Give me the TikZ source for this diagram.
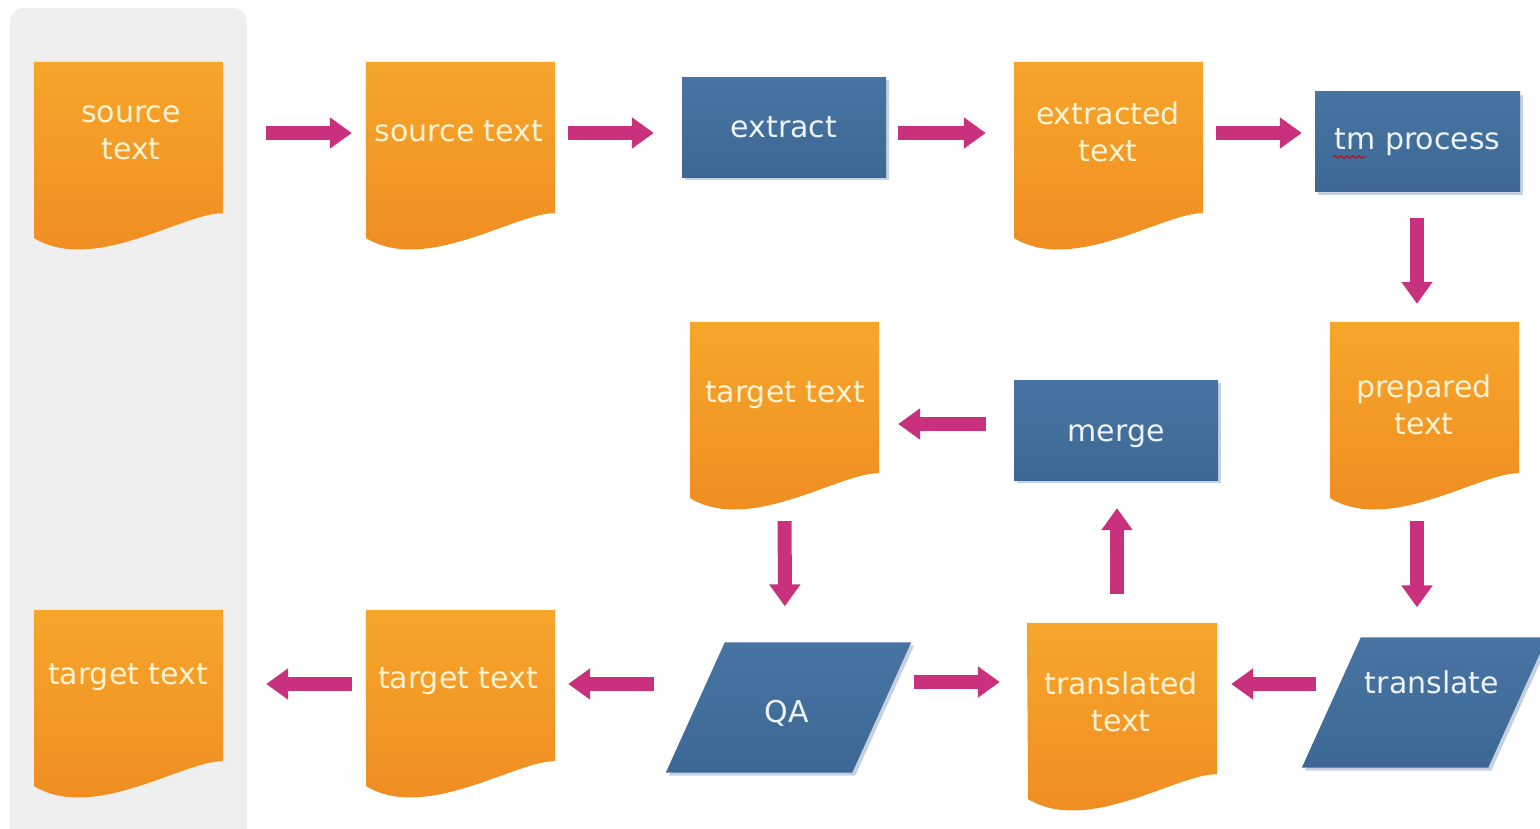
\documentclass[tikz,border=0pt]{standalone}
\usepackage{fontspec}
\setmainfont{DejaVu Sans}
\usetikzlibrary{arrows.meta,calc,decorations.pathmorphing,shadows}
\definecolor{panel}{HTML}{EFEFEF}
\definecolor{orTop}{HTML}{F6A62B}
\definecolor{orBot}{HTML}{EF8A21}
\definecolor{blTop}{HTML}{4774A2}
\definecolor{blBot}{HTML}{3D6896}
\definecolor{blShadow}{HTML}{C5D1DE}
\definecolor{arrowc}{HTML}{C9317C}
\definecolor{ortext}{HTML}{FFF3D2}
\definecolor{bltext}{HTML}{EEF3FA}
\tikzset{
  docbox/.style={rectangle, inner sep=0pt, minimum width=189pt, minimum height=151pt},
  orfill/.style={top color=orTop, bottom color=orBot},
  doctext/.style={text=ortext, align=center, inner sep=0pt, font=\fontsize{30pt}{37pt}\selectfont},
  bltxt/.style={text=bltext, align=center, inner sep=0pt, font=\fontsize{30pt}{37pt}\selectfont},
  bluebox/.style={rectangle, inner sep=0pt, minimum width=204pt, minimum height=100pt,
    top color=blTop, bottom color=blBot, text=bltext, font=\fontsize{30pt}{37pt}\selectfont,
    drop shadow={shadow xshift=3pt, shadow yshift=-3pt, fill=blShadow, opacity=1}},
  parabox/.style={rectangle, inner sep=0pt, minimum width=245pt, minimum height=130pt},
  arr/.style={draw=arrowc, line width=14pt, -{Triangle[length=22pt,width=30pt]}},
}
\newcommand\mydoc[1]{\shade[orfill] (#1.north west) -- (#1.north east) -- (#1.south east)
  .. controls ($(#1.south east)+(-39,-1)$) and ($(#1.south east)+(-129,61)$) .. ($(#1.south east)+(-189,25)$) -- cycle;}
\newcommand\mypara[1]{%
  \fill[blShadow] ($(#1.north west)+(62,3)$) -- ($(#1.north east)+(3,3)$) -- ($(#1.south east)+(-56,3)$) -- ($(#1.south west)+(3,3)$) -- cycle;
  \shade[top color=blTop, bottom color=blBot] ($(#1.north west)+(59,0)$) -- (#1.north east) -- ($(#1.south east)+(-59,0)$) -- (#1.south west) -- cycle;}
\begin{document}
\begin{tikzpicture}[x=1pt,y=-1pt]
\useasboundingbox (0,0) rectangle (1540,829);
\fill[panel, rounded corners=14pt] (10,8) rectangle (247,870);

% documents
\node[docbox] (st1) at (128.5,137.5) {};
\node[docbox] (st2) at (460.5,137.5) {};
\node[docbox] (ext) at (1108.5,137.5) {};
\node[docbox] (ttm) at (784.5,397.5) {};
\node[docbox] (prep) at (1424.5,397.5) {};
\node[docbox] (tt1) at (128.5,685.5) {};
\node[docbox] (tt2) at (460.5,685.5) {};
\node[docbox, minimum width=190pt] (trd) at (1122,698.5) {};
\mydoc{st1}\mydoc{st2}\mydoc{ext}\mydoc{ttm}\mydoc{prep}\mydoc{tt1}\mydoc{tt2}\mydoc{trd}
\node[doctext] (st1t) at (131,133) {source\\text};
\node[doctext] (st2t) at (459,131) {source text};
\node[doctext] (extt) at (1108,132) {extracted\\text};
\node[doctext] (ttmt) at (785,395) {target text};
\node[doctext] (prept) at (1424,405) {prepared\\text};
\node[doctext] (tt1t) at (128,677) {target text};
\node[doctext] (tt2t) at (458,681) {target text};
\node[doctext] (trdt) at (1121,702) {translated\\text};

% process boxes
\node[bluebox] (extract) at (784,127.5) {extract};
\node[bluebox, minimum width=205pt] (tmp) at (1417.5,142) {tm process};
\draw[red!85!black, line width=1pt, decorate, decoration={snake, amplitude=1.2pt, segment length=6pt}] (1333,157) -- (1366,157);
\node[bluebox] (merge) at (1116,430) {};
\node[bltxt] (merget) at (1116,436) {merge};

% parallelograms
\node[parabox] (qa) at (788.5,707.5) {};
\node[parabox] (tr) at (1424.5,702.5) {};
\mypara{qa}\mypara{tr}
\node[bltxt] (qat) at (787,713) {QA};
\node[bltxt] (trt) at (1432,682) {translate};

% connectors
\draw[arr, shorten <=43pt, shorten >=14pt] ([yshift=4.5pt]st1.east) -- ([yshift=4.5pt]st2.west);
\draw[arr, shorten <=13pt, shorten >=28pt] ([yshift=4.5pt]st2.east) -- ([yshift=-5.5pt]extract.west);
\draw[arr, shorten <=12pt, shorten >=28pt] ([yshift=-5.5pt]extract.east) -- ([yshift=4.5pt]ext.west);
\draw[arr, shorten <=13pt, shorten >=13pt] ([yshift=4.5pt]ext.east) -- ([yshift=9pt]tmp.west);
\draw[arr, shorten <=26pt, shorten >=18pt] ([xshift=-0.5pt]tmp.south) -- ([xshift=-7.5pt]prep.north);
\draw[arr, shorten <=48pt, shorten >=30pt] ([xshift=-7.5pt]prep.south) -- ([xshift=-7.5pt]tr.north);
\draw[arr, shorten <=-14pt, shorten >=14pt] ([yshift=18.5pt]tr.west) -- ([yshift=14.5pt]trd.east);
\draw[arr, shorten <=29pt, shorten >=28pt] ([xshift=-5pt]trd.north) -- ([xshift=1pt]merge.south);
\draw[arr, shorten <=28pt, shorten >=19pt] ([yshift=6pt]merge.west) -- ([yshift=-26.5pt]ttm.east);
\draw[arr, shorten <=48pt, shorten >=36pt] (ttm.south) -- ([xshift=-3.5pt]qa.north);
\draw[arr, shorten <=3pt, shorten >=27pt] ([yshift=25.5pt]qa.east) -- ([yshift=16.5pt]trd.west);
\draw[arr, shorten <=12pt, shorten >=13pt] ([yshift=23.5pt]qa.west) -- ([yshift=1.5pt]tt2.east);
\draw[arr, shorten <=14pt, shorten >=43pt] ([yshift=1.5pt]tt2.west) -- ([yshift=1.5pt]tt1.east);
\end{tikzpicture}
\end{document}
